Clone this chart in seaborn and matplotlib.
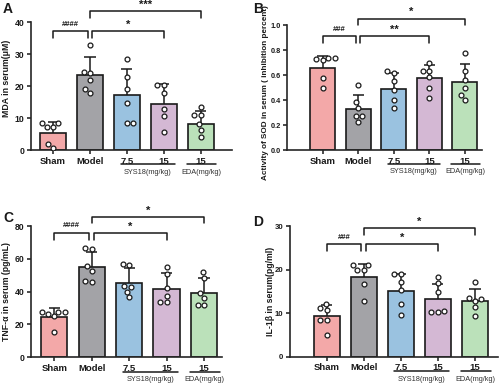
import matplotlib
matplotlib.use("Agg")
import matplotlib.pyplot as plt
import matplotlib.transforms as mtransforms
import numpy as np
import pandas as pd
import seaborn as sns

groups = ["Sham", "Model", "7.5", "15", "15 "]
tick_labels = ["Sham", "Model", "7.5", "15", "15"]
colors = ["#FF9C9C", "#A2A2A8", "#8EC3EC", "#D9B3D9", "#B5E8B3"]

# panel A: MDA
mda_mean = [5.4, 23.5, 17.1, 14.3, 8.2]
mda_sd = [3.35, 5.5, 8.2, 6.4, 4.0]
mda_points = [
    [7.1, 8.4, 8.4, 2.0, 0.8, 7.1],
    [32.7, 24.5, 24.0, 22.0, 19.0, 18.0],
    [28.5, 23.0, 19.0, 14.7, 8.6, 8.6],
    [20.4, 20.4, 18.0, 12.9, 10.8, 5.8],
    [13.4, 11.1, 11.1, 8.2, 6.4, 4.0],
]

# panel B: SOD
sod_mean = [0.655, 0.33, 0.49, 0.578, 0.545]
sod_sd = [0.10, 0.11, 0.125, 0.10, 0.145]
sod_points = [
    [0.74, 0.74, 0.73, 0.72, 0.58, 0.50],
    [0.52, 0.385, 0.34, 0.27, 0.27, 0.225],
    [0.63, 0.62, 0.55, 0.48, 0.40, 0.34],
    [0.70, 0.634, 0.634, 0.585, 0.50, 0.42],
    [0.78, 0.634, 0.56, 0.50, 0.44, 0.40],
]

# panel C: TNF-a
tnf_mean = [24.8, 55.2, 45.5, 41.8, 39.4]
tnf_sd = [5.0, 9.2, 9.1, 9.8, 8.9]
tnf_points = [
    [27.8, 27.8, 27.8, 26.6, 25.0, 15.4],
    [65.8, 66.4, 55.4, 52.8, 45.7, 46.5],
    [56.6, 56.0, 43.5, 43.0, 40.0, 36.5],
    [55.2, 50.6, 42.4, 37.6, 33.5, 33.5],
    [52.2, 48.5, 39.0, 36.0, 31.9, 31.9],
]

# panel D: IL-1b
il_mean = [9.26, 18.2, 15.15, 13.2, 12.9]
il_sd = [2.7, 3.1, 3.85, 3.55, 2.6]
il_points = [
    [12.2, 11.1, 10.8, 8.4, 8.4, 5.0],
    [21.0, 21.0, 19.9, 19.9, 16.6, 12.9],
    [19.0, 19.1, 17.1, 15.4, 12.2, 9.7],
    [18.4, 17.0, 14.9, 10.2, 10.6, 10.2],
    [17.1, 13.6, 13.2, 12.9, 11.5, 9.3],
]

panels = [
    dict(letter="A", mean=mda_mean, sd=mda_sd, points=mda_points,
         ylabel="MDA in serum(\u03bcM)", ylim=40, yticks=[0, 10, 20, 30, 40],
         yfmt="{:.0f}", tick_size=6.2, rect=[0.062, 0.612, 0.402, 0.331],
         xlim=(-0.6, 4.85),
         sig=[(0, 1, 37.2, "####"), (1, 3, 37.2, "*"), (1, 4, 43.4, "***")],
         label_xy=(-0.1, 0.56), label_size=6.3, letter_xy=(0.006, 0.995)),
    dict(letter="B", mean=sod_mean, sd=sod_sd, points=sod_points,
         ylabel="Activity of SOD in serum ( inhibition percent)", ylim=1.0,
         yticks=[0.0, 0.2, 0.4, 0.6, 0.8, 1.0], yfmt="{:.1f}", tick_size=5.3,
         rect=[0.574, 0.612, 0.39, 0.323], xlim=(-1.0, 4.48),
         sig=[(0, 1, 0.912, "###"), (1, 3, 0.912, "**"), (1, 4, 1.053, "*")],
         label_xy=(-0.09, 0.46), label_size=5.9, letter_xy=(0.506, 0.995)),
    dict(letter="C", mean=tnf_mean, sd=tnf_sd, points=tnf_points,
         ylabel="TNF-\u03b1 in serum (pg/mL)", ylim=80, yticks=[0, 20, 40, 60, 80],
         yfmt="{:.0f}", tick_size=6.2, rect=[0.062, 0.077, 0.382, 0.339],
         xlim=(-0.62, 4.48),
         sig=[(0, 1, 75.9, "####"), (1, 3, 75.9, "*"), (1, 4, 85.7, "*")],
         label_xy=(-0.105, 0.5), label_size=6.3, letter_xy=(0.006, 0.455)),
    dict(letter="D", mean=il_mean, sd=il_sd, points=il_points,
         ylabel="IL-1\u03b2 in serum(pg/ml)", ylim=30, yticks=[0, 10, 20, 30],
         yfmt="{:.0f}", tick_size=5.6, rect=[0.579, 0.078, 0.417, 0.338],
         xlim=(-1.0, 4.62),
         sig=[(0, 1, 25.8, "###"), (1, 3, 25.8, "*"), (1, 4, 29.5, "*")],
         label_xy=(-0.068, 0.5), label_size=6.3, letter_xy=(0.506, 0.445)),
]

sns.set_theme(style="ticks")
plt.rcParams["font.family"] = ["Liberation Sans", "DejaVu Sans"]
plt.rcParams["axes.linewidth"] = 1.2

fig = plt.figure(figsize=(5.0, 3.87), dpi=100)
ink = "#1a1a1a"

for p in panels:
    ax = fig.add_axes(p["rect"])
    bars = pd.DataFrame({"group": groups, "value": p["mean"]})
    pts = pd.DataFrame({
        "group": np.repeat(groups, [len(v) for v in p["points"]]),
        "value": np.concatenate(p["points"]),
    })

    sns.barplot(data=bars, x="group", y="value", hue="group", order=groups,
                palette=colors, legend=False, errorbar=None, width=0.7,
                edgecolor=ink, linewidth=1.2, ax=ax, zorder=2)

    xs = np.arange(len(groups))
    mean = np.asarray(p["mean"])
    top = mean + np.asarray(p["sd"])
    ax.vlines(xs, mean, top, color=ink, lw=1.1, zorder=3)
    ax.hlines(top, xs - 0.15, xs + 0.15, color=ink, lw=1.1, zorder=3)

    sns.swarmplot(data=pts, x="group", y="value", order=groups, color="white",
                  edgecolor=ink, linewidth=0.9, size=3.5, ax=ax, zorder=4)

    ax.set_xlim(*p["xlim"])
    ax.set_ylim(0, p["ylim"])
    ax.set_yticks(p["yticks"])
    ax.set_yticklabels([p["yfmt"].format(t) for t in p["yticks"]],
                       fontsize=p["tick_size"], fontweight="bold")
    ax.set_xticks(xs)
    ax.set_xticklabels(tick_labels, fontsize=6.8, fontweight="bold")
    ax.tick_params(axis="both", length=2.8, width=1.1, pad=1.8, colors=ink)
    ax.set_xlabel("")
    ax.set_ylabel(p["ylabel"], fontsize=p["label_size"], fontweight="bold",
                  color=ink)
    ax.yaxis.set_label_coords(*p["label_xy"])
    sns.despine(ax=ax)
    ax.set_facecolor("none")

    # significance brackets
    arm = 0.052 * p["ylim"]
    for i, j, y, label in p["sig"]:
        upper = y >= p["ylim"] * 0.97
        x0 = i + (0.06 if i == 1 and not upper else 0.0)
        x1 = j - (0.06 if j == 1 else 0.0)
        ax.plot([x0, x0, x1, x1], [y - arm, y, y, y - arm], color=ink, lw=1.1,
                clip_on=False, zorder=5)
        big = "*" in label
        ax.text((x0 + x1) / 2, y + (0.01 if big else 0.025) * p["ylim"], label,
                ha="center", va="bottom", fontsize=8 if big else 5.5,
                fontweight="bold", color=ink, clip_on=False)

    # dose group labels under the x axis
    trans = mtransforms.blended_transform_factory(ax.transData, ax.transAxes)
    for x0, x1, label in [(1.83, 3.3, "SYS18(mg/kg)"), (3.62, 4.42, "EDA(mg/kg)")]:
        ax.plot([x0, x1], [-0.11, -0.11], color=ink, lw=1.1, transform=trans,
                clip_on=False)
        ax.text((x0 + x1) / 2, -0.145, label, transform=trans, ha="center",
                va="top", fontsize=5.3, color="#333333")

    fig.text(p["letter_xy"][0], p["letter_xy"][1], p["letter"], fontsize=10,
             fontweight="bold", ha="left", va="top", color=ink)

fig.savefig("out.png", dpi=100)
